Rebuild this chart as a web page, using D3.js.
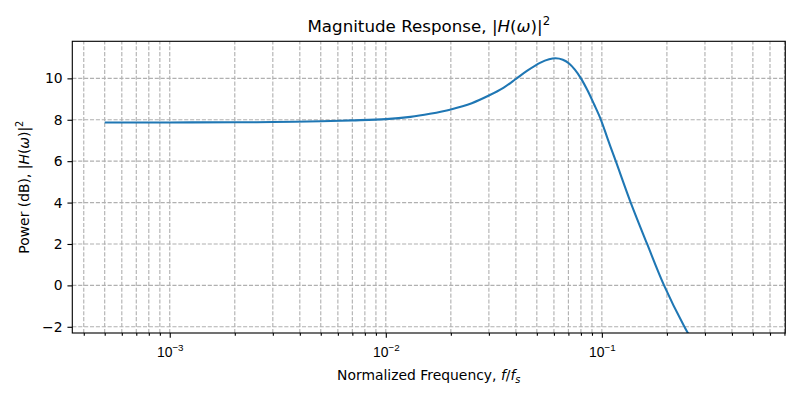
<!DOCTYPE html>
<html>
<head>
<meta charset="utf-8">
<script src="https://cdn.jsdelivr.net/npm/d3@7/dist/d3.min.js"></script>
<style>
  body { margin: 0; background: #fff; }
  svg { display: block; font-family: "DejaVu Sans", sans-serif; }
</style>
</head>
<body>
<svg id="chart" width="800" height="400"></svg>
<script>
// Data
const freq = [0.0005, 0.001, 0.002, 0.003, 0.005, 0.007, 0.01, 0.013, 0.016, 0.02, 0.025, 0.03, 0.035, 0.040, 0.045, 0.052, 0.057, 0.061, 0.066, 0.0705, 0.075, 0.080, 0.086, 0.092, 0.099, 0.107, 0.116, 0.136, 0.162, 0.194, 0.241, 0.26];
const powerDb = [7.87, 7.87, 7.88, 7.89, 7.93, 7.97, 8.03, 8.14, 8.29, 8.50, 8.80, 9.17, 9.54, 9.97, 10.36, 10.76, 10.92, 10.97, 10.90, 10.72, 10.42, 10.0, 9.40, 8.75, 8.0, 7.0, 6.0, 4.0, 2.0, 0.0, -2.0, -2.6];
const yTicks = [-2, 0, 2, 4, 6, 8, 10];
const xMajorExps = [-3, -2, -1];
const xDomain = [Math.pow(10, -3.451), Math.pow(10, -0.151)];
const yDomain = [-2.30, 11.79];

const PT = 100 / 72;
const svg = d3.select("#chart");
const L = 72.3, R = 785.3, T = 41.3, B = 333;

const x = d3.scaleLog().domain(xDomain).range([L, R]);
const y = d3.scaleLinear().domain(yDomain).range([B, T]);

// minor/major x tick values
const xMinor = [];
for (let e = -4; e <= 0; e++) {
  for (let m = 2; m <= 9; m++) {
    const v = m * Math.pow(10, e);
    if (v >= xDomain[0] && v <= xDomain[1]) xMinor.push(v);
  }
}
const xMajor = xMajorExps.map(e => Math.pow(10, e));

const gridColor = "#b0b0b0";
const dash = `${3.7 * 0.8 * PT},${1.6 * 0.8 * PT}`;

// grid
const grid = svg.append("g");
grid.selectAll("line.v").data(xMinor.concat(xMajor)).join("line")
  .attr("x1", d => x(d)).attr("x2", d => x(d))
  .attr("y1", B).attr("y2", T)
  .attr("stroke", gridColor).attr("stroke-width", 0.8 * PT)
  .attr("stroke-dasharray", dash);
grid.selectAll("line.h").data(yTicks).join("line")
  .attr("x1", L).attr("x2", R)
  .attr("y1", d => y(d)).attr("y2", d => y(d))
  .attr("stroke", gridColor).attr("stroke-width", 0.8 * PT)
  .attr("stroke-dasharray", dash);

// clip
svg.append("clipPath").attr("id", "clip")
  .append("rect").attr("x", L).attr("y", T).attr("width", R - L).attr("height", B - T);

const data = freq.map((f, i) => [f, powerDb[i]]);
const line = d3.line().x(d => x(d[0])).y(d => y(d[1])).curve(d3.curveCatmullRom.alpha(0.5));
svg.append("path").datum(data)
  .attr("clip-path", "url(#clip)")
  .attr("d", line)
  .attr("fill", "none")
  .attr("stroke", "#1f77b4")
  .attr("stroke-width", 1.5 * PT)
  .attr("stroke-linejoin", "round")
  .attr("stroke-linecap", "butt");

// axes
const xAxisMinor = d3.axisBottom(x).tickValues(xMinor).tickSize(2 * PT).tickFormat("");
const xAxisMajor = d3.axisBottom(x).tickValues(xMajor).tickSize(3.5 * PT).tickFormat("");
const gxm = svg.append("g").attr("transform", `translate(0,${B})`).call(xAxisMinor);
const gxM = svg.append("g").attr("transform", `translate(0,${B})`).call(xAxisMajor);
[gxm, gxM].forEach(g => {
  g.select(".domain").remove();
  g.selectAll("line").attr("stroke", "#000").attr("stroke-width", 0.8 * PT);
});
// x major labels 10^e
gxM.selectAll(".tick").each(function(d) {
  const e = Math.round(Math.log10(d));
  const t = d3.select(this).append("text")
    .attr("y", 24).attr("fill", "#000").attr("text-anchor", "middle")
    .attr("font-size", 13.9);
  t.append("tspan").text("10");
  t.append("tspan").attr("dy", -6).attr("font-size", 9.8).text("\u2212" + Math.abs(e));
});

const yAxis = d3.axisLeft(y).tickValues(yTicks).tickSize(3.5 * PT).tickPadding(3.5 * PT)
  .tickFormat(d => d < 0 ? "\u2212" + Math.abs(d) : String(d));
const gy = svg.append("g").attr("transform", `translate(${L},0)`).call(yAxis);
gy.select(".domain").remove();
gy.selectAll("line").attr("stroke", "#000").attr("stroke-width", 0.8 * PT);
gy.selectAll("text").attr("font-size", 13.9).attr("fill", "#000")
  .attr("font-family", "DejaVu Sans, sans-serif");

// frame
svg.append("rect").attr("x", L).attr("y", T).attr("width", R - L).attr("height", B - T)
  .attr("fill", "none").attr("stroke", "#000").attr("stroke-width", 0.8 * PT);

// title
const title = svg.append("text").attr("x", (L + R) / 2).attr("y", 32)
  .attr("text-anchor", "middle").attr("font-size", 16.7).attr("fill", "#000");
title.append("tspan").text("Magnitude Response, |");
title.append("tspan").attr("font-style", "italic").text("H");
title.append("tspan").text("(");
title.append("tspan").attr("font-style", "italic").text("ω");
title.append("tspan").text(")|");
title.append("tspan").attr("dy", -7).attr("font-size", 11.7).text("2");

// x label
const xl = svg.append("text").attr("x", (L + R) / 2).attr("y", 380)
  .attr("text-anchor", "middle").attr("font-size", 13.9).attr("fill", "#000");
xl.append("tspan").text("Normalized Frequency, ");
xl.append("tspan").attr("font-style", "italic").text("f");
xl.append("tspan").text("/");
xl.append("tspan").attr("font-style", "italic").text("f");
xl.append("tspan").attr("font-style", "italic").attr("font-size", 9.8).attr("dy", 3).text("s");

// y label
const yl = svg.append("text")
  .attr("transform", `translate(29,${(T + B) / 2}) rotate(-90)`)
  .attr("text-anchor", "middle").attr("font-size", 13.9).attr("fill", "#000");
yl.append("tspan").text("Power (dB), |");
yl.append("tspan").attr("font-style", "italic").text("H");
yl.append("tspan").text("(");
yl.append("tspan").attr("font-style", "italic").text("ω");
yl.append("tspan").text(")|");
yl.append("tspan").attr("dy", -6).attr("font-size", 9.8).text("2");
</script>
</body>
</html>
